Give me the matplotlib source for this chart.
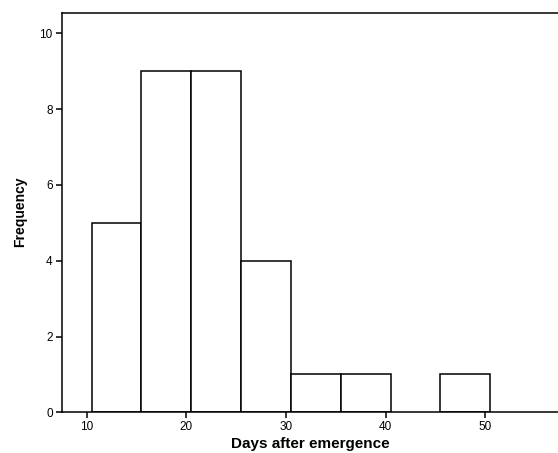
import matplotlib.pyplot as plt

# histogram of days after emergence
bin_edges = [10.5, 15.5, 20.5, 25.5, 30.5, 35.5, 40.5, 45.5, 50.5]
counts = [5, 9, 9, 4, 1, 1, 0, 1]
xticks = [10, 20, 30, 40, 50]
yticks = [0, 2, 4, 6, 8, 10]

plt.rcParams['font.family'] = ['Liberation Sans', 'DejaVu Sans']

fig = plt.figure(figsize=(5.58, 4.53), dpi=100)
ax = fig.add_axes([0.1106, 0.0898, 0.8894, 0.8808])

widths = [b - a for a, b in zip(bin_edges[:-1], bin_edges[1:])]
for left, w, c in zip(bin_edges[:-1], widths, counts):
    if c > 0:
        ax.bar(left, c, width=w, align='edge', color='white',
               edgecolor='black', linewidth=1.1)

ax.set_xlim(7.5, 57.3)
ax.set_ylim(0, 10.53)
ax.set_xticks(xticks)
ax.set_yticks(yticks)
ax.tick_params(direction='out', length=4.5, width=1.1, labelsize=8.5, pad=2)

ax.spines['right'].set_visible(False)
for s in ['left', 'top', 'bottom']:
    ax.spines[s].set_linewidth(1.1)

ax.set_xlabel('Days after emergence', fontsize=11, fontweight='bold', va='center')
ax.xaxis.set_label_coords(0.5, -0.079)
ax.set_ylabel('Frequency', fontsize=10, fontweight='bold', va='center')
ax.yaxis.set_label_coords(-0.084, 0.502)

fig.savefig('out.png', dpi=100)
